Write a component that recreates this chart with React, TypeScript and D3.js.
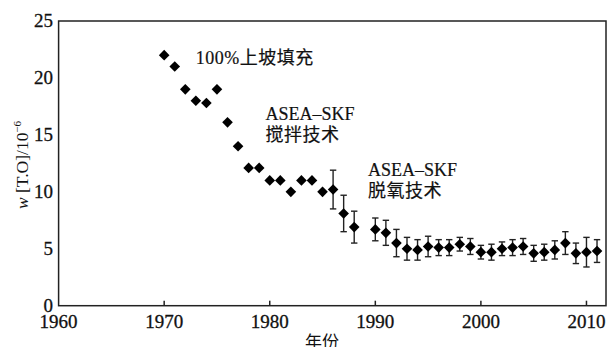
import React from "react";
import * as d3 from "d3";

// years, oxygen content w[T.O] (10^-6) and error bar half-widths
const years = [1970, 1971, 1972, 1973, 1974, 1975, 1976, 1977, 1978, 1979, 1980, 1981, 1982, 1983, 1984, 1985, 1986, 1987, 1988,
  1990, 1991, 1992, 1993, 1994, 1995, 1996, 1997, 1998, 1999, 2000, 2001, 2002, 2003, 2004, 2005, 2006, 2007, 2008, 2009, 2010, 2011];
const values = [22.0, 21.0, 19.0, 18.0, 17.8, 19.0, 16.1, 14.0, 12.1, 12.1, 11.0, 11.0, 10.0, 11.0, 11.0, 10.0, 10.2, 8.1, 6.9,
  6.7, 6.4, 5.5, 5.0, 4.9, 5.2, 5.1, 5.1, 5.4, 5.2, 4.7, 4.7, 5.0, 5.1, 5.2, 4.6, 4.7, 4.9, 5.5, 4.6, 4.7, 4.8];
const errors = [0, 0, 0, 0, 0, 0, 0, 0, 0, 0, 0, 0, 0, 0, 0, 0, 1.7, 1.6, 1.4,
  1.0, 1.1, 1.2, 1.0, 0.9, 0.9, 0.7, 0.7, 0.6, 0.7, 0.6, 0.7, 0.6, 0.7, 0.7, 0.7, 0.7, 0.8, 1.0, 0.9, 1.3, 1.0];

const xTicks = [1960, 1970, 1980, 1990, 2000, 2010];
const yTicks = [0, 5, 10, 15, 20, 25];

const notes = [
  { year: 1973.0, value: 21.2, lines: ["100%上坡填充"] },
  { year: 1979.6, value: 16.3, lines: ["ASEA–SKF", "搅拌技术"] },
  { year: 1989.3, value: 11.4, lines: ["ASEA–SKF", "脱氧技术"] },
];

const W = 607;
const H = 347;
const left = 58.6, right = 606, top = 21, bottom = 305.7;
const serif = "'Liberation Serif', 'DejaVu Serif', serif";
const cjk = "'Liberation Serif', 'Noto Sans CJK SC', serif";
const ink = "#111";

export default function App() {
  const x = d3.scaleLinear().domain([1960, 2011.85]).range([left, right]);
  const y = d3.scaleLinear().domain([0, 25]).range([bottom, top]);
  const r = 6; // diamond half-diagonal
  const cap = 3.2;
  const diamond = d3.symbol().type(d3.symbolDiamond2).size(2 * r * r);

  const points = years.map((yr, i) => ({ yr, v: values[i], e: errors[i] }));

  return (
    <svg width={W} height={H} style={{ position: "absolute", left: 0, top: 0, background: "#fff" }}>
      {/* error bars */}
      <g stroke="#222" strokeWidth={1.4}>
        {points.filter(d => d.e > 0).map(d => (
          <g key={"e" + d.yr}>
            <line x1={x(d.yr)} x2={x(d.yr)} y1={y(d.v + d.e)} y2={y(d.v - d.e)} />
            <line x1={x(d.yr) - cap} x2={x(d.yr) + cap} y1={y(d.v + d.e)} y2={y(d.v + d.e)} />
            <line x1={x(d.yr) - cap} x2={x(d.yr) + cap} y1={y(d.v - d.e)} y2={y(d.v - d.e)} />
          </g>
        ))}
      </g>
      {/* markers */}
      <g fill="#000">
        {points.map(d => (
          <path key={"p" + d.yr} d={diamond() as string} transform={`translate(${x(d.yr)},${y(d.v)})`} />
        ))}
      </g>
      {/* frame */}
      <rect x={left} y={top} width={right - left} height={bottom - top} fill="none" stroke="#222" strokeWidth={1.5} />
      {/* x ticks, pointing inwards */}
      <g stroke="#222" strokeWidth={1.5}>
        {xTicks.slice(1).map(t => (
          <line key={t} x1={x(t)} x2={x(t)} y1={bottom} y2={bottom - 5} />
        ))}
      </g>
      <g fontFamily={serif} fontSize={19} fill={ink} stroke={ink} strokeWidth={0.3} textAnchor="middle">
        {xTicks.map(t => (
          <text key={t} x={x(t)} y={328}>{t}</text>
        ))}
      </g>
      <g fontFamily={serif} fontSize={19} fill={ink} stroke={ink} strokeWidth={0.3} textAnchor="end">
        {yTicks.map(t => (
          <text key={t} x={53} y={y(t) + 6}>{t}</text>
        ))}
      </g>
      {/* axis titles */}
      <text transform="translate(28,165) rotate(-90)" textAnchor="middle" fontFamily={serif} fontSize={17.5} fill={ink}>
        <tspan fontStyle="italic">w</tspan>
        <tspan> [T.O]/10</tspan>
        <tspan fontSize={11} dy={-7}>−6</tspan>
      </text>
      <text x={322} y={348} textAnchor="middle" fontFamily={cjk} fontSize={17} fill={ink}>年份</text>
      {/* annotations */}
      <g fontFamily={cjk} fontSize={18} fill={ink} stroke={ink} strokeWidth={0.2}>
        {notes.map((n, i) => (
          <text key={i} x={x(n.year)} y={y(n.value)}>
            {n.lines.map((l, j) => (
              <tspan key={j} x={x(n.year)} dy={j === 0 ? 0 : 21} letterSpacing={/[A-Z]/.test(l) ? 0 : 0.5}>{l}</tspan>
            ))}
          </text>
        ))}
      </g>
    </svg>
  );
}
